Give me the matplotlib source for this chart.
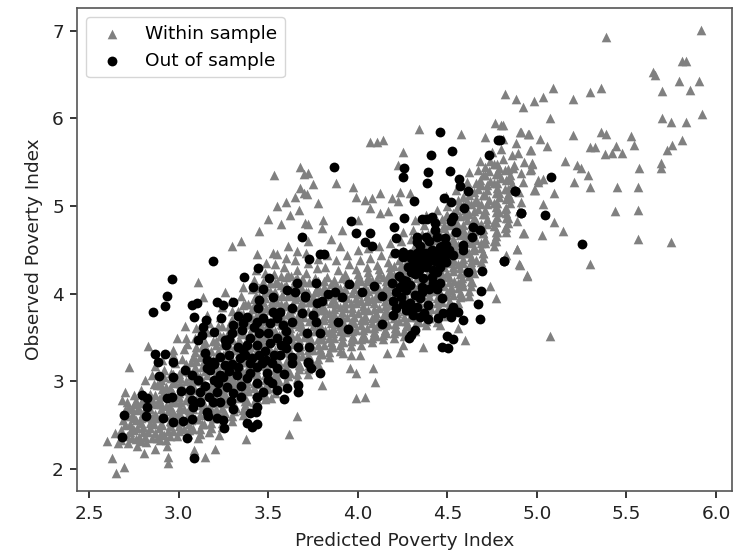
import matplotlib
matplotlib.use("Agg")
import matplotlib.pyplot as plt

x_label = "Predicted Poverty Index"
y_label = "Observed Poverty Index"
x_ticks = [2.5, 3.0, 3.5, 4.0, 4.5, 5.0, 5.5, 6.0]
y_ticks = [2, 3, 4, 5, 6, 7]

# Within sample: sparse points read individually
within_sparse_right = [(5.384,6.924),(5.916,7.01),(5.808,6.658),(5.83,6.658),(5.646,6.53),(5.659,6.49),(5.791,6.43),(5.903,6.43),(5.856,6.32),(5.70,6.31),(5.356,6.35),(5.294,6.30),(5.20,6.22),(5.088,6.35),(5.036,6.24),(4.984,6.20),(4.924,6.125),(4.881,6.22),(4.822,6.28),(5.073,6.007),(4.811,5.92),(5.923,6.05),(5.70,6.007),(5.746,5.96),(5.834,5.96),(5.811,5.75),(5.754,5.70),(5.724,5.64),(5.20,5.81),(5.356,5.85),(5.384,5.82),(5.523,5.80),(5.54,5.70),(5.443,5.69),(5.296,5.676),(5.324,5.676),(5.378,5.596),(5.417,5.61),(5.473,5.61),(5.568,5.44),(5.69,5.49),(5.69,5.44),(5.155,5.52),(5.226,5.467),(5.246,5.44),(5.287,5.36),(5.207,5.276),(5.294,5.216),(5.449,5.216),(5.562,5.216),(5.436,4.945),(5.562,4.96),(5.562,4.63),(5.746,4.59),(5.294,4.337),(5.073,3.52),(5.097,4.816),(5.147,4.713),(5.028,4.67),(4.924,4.69),(4.891,4.508),(4.904,4.33),(4.943,4.21),(5.097,5.147),(5.036,5.025),(4.982,5.185),(5.008,5.276),(5.032,5.307),(4.909,5.85),(4.956,5.82),(5.017,5.76),(5.054,5.69),(4.965,5.64),(4.974,5.48),(4.965,5.42)]
within_sparse_left = [(3.11,4.131),(3.259,4.024),(3.134,3.967),(3.036,3.632),(2.989,3.492),(2.827,3.408),(3.049,3.427),(2.971,3.358),(2.725,3.168),(2.701,2.883),(2.682,2.788),(2.599,2.324),(2.645,2.407),(2.664,2.293),(2.627,2.129),(2.695,2.019),(2.651,1.958),(2.807,2.179),(2.868,2.225),(2.939,2.141),(2.939,2.065),(2.896,2.331),(2.933,2.263),(3.088,2.217),(3.147,2.141),(3.203,2.225),(3.227,2.388),(3.376,2.339),(3.618,2.4),(3.659,2.605),(3.514,2.807),(3.436,4.454),(3.529,4.462)]
within_sparse_mid = [(4.343,5.877),(4.579,5.824),(4.068,5.733),(4.105,5.733),(4.142,5.756),(4.254,5.622),(4.226,5.47),(3.878,5.261),(3.975,5.223),(3.993,5.101),(4.04,5.071),(4.077,5.09),(4.127,5.147),(4.068,4.976),(4.189,5.09),(4.235,5.166),(4.291,5.147),(4.222,5.059),(4.123,4.919),(4.17,4.949),(3.807,4.842),(3.699,5.364),(3.714,5.139),(3.677,5.204),(3.705,4.804),(4.003,4.842),(3.91,4.728),(4.709,5.794),(4.765,5.946),(4.802,5.927),(4.905,5.851),(4.951,5.824),(4.886,5.717),(4.96,5.642),(4.895,5.603),(4.97,5.489),(4.96,5.413),(4.867,5.432),(4.988,5.185),(5.007,5.299),(4.927,4.69),(4.89,4.508),(4.901,4.336),(4.942,4.207),(4.83,4.443),(4.771,3.956),(4.741,4.089),(4.598,3.473),(4.365,3.396),(4.235,3.34),(4.254,3.416),(4.086,3.149),(4.099,2.997),(3.956,3.149),(3.989,3.092),(4.04,2.826),(3.99,2.81),(3.919,3.32),(3.965,3.302),(4.012,3.302),(4.161,3.32),(3.798,2.959),(4.458,3.644),(4.561,3.606),(3.53,5.35),(3.68,5.45),(3.72,5.38),(3.75,5.25),(3.78,5.03),(3.6,5.05),(3.55,5.0),(3.65,5.1),(3.7,5.15),(3.45,4.72),(3.5,4.85),(3.57,4.8),(3.62,4.9),(3.67,4.95),(3.35,4.6),(3.3,4.55),(3.72,4.8),(3.8,4.75),(3.85,4.62),(3.9,4.55)]

# Within sample: the dense band, estimated region by region
within_band_a = [(2.68,2.33),(2.68,2.45),(2.69,2.56),(2.7,2.67),(2.71,2.76),(2.72,2.3),(2.73,2.42),(2.73,2.52),(2.74,2.62),(2.75,2.74),(2.75,2.85),(2.77,2.26),(2.78,2.37),(2.77,2.47),(2.79,2.58),(2.78,2.69),(2.8,2.8),(2.79,2.9),(2.81,3.02),(2.82,2.31),(2.83,2.42),(2.84,2.53),(2.83,2.64),(2.85,2.75),(2.84,2.86),(2.86,2.97),(2.85,3.07),(2.87,3.18),(2.88,2.36),(2.89,2.47),(2.88,2.58),(2.9,2.69),(2.89,2.8),(2.91,2.91),(2.9,3.02),(2.92,3.13),(2.91,3.24),(2.93,2.33),(2.94,2.44),(2.95,2.55),(2.94,2.66),(2.96,2.77),(2.95,2.88),(2.97,2.99),(2.96,3.1),(2.98,3.21),(2.97,3.3),(2.99,2.38),(3.0,2.49),(2.99,2.6),(3.01,2.71),(3.0,2.82),(3.02,2.93),(3.01,3.04),(3.03,3.15),(3.02,3.26),(3.03,3.37),(3.04,3.5),(3.05,2.4),(3.06,2.51),(3.05,2.62),(3.07,2.73),(3.06,2.84),(3.08,2.95),(3.07,3.06),(3.09,3.17),(3.08,3.28),(3.1,3.39),(3.09,3.5),(3.1,3.61),(3.11,2.35),(3.12,2.46),(3.11,2.57),(3.13,2.68),(3.12,2.79),(3.14,2.9),(3.13,3.01),(3.15,3.12),(3.14,3.23),(3.16,3.34),(3.15,3.45),(3.16,3.56),(3.17,3.67),(3.16,3.76)]
within_band_b = [(3.17,2.42),(3.18,2.53),(3.19,2.64),(3.18,2.75),(3.2,2.86),(3.19,2.97),(3.21,3.08),(3.2,3.19),(3.22,3.3),(3.21,3.41),(3.23,3.52),(3.22,3.63),(3.23,3.74),(3.24,3.85),(3.24,2.48),(3.25,2.59),(3.24,2.7),(3.26,2.81),(3.25,2.92),(3.27,3.03),(3.26,3.14),(3.28,3.25),(3.27,3.36),(3.29,3.47),(3.28,3.58),(3.29,3.69),(3.3,3.8),(3.29,3.92),(3.3,2.55),(3.31,2.66),(3.3,2.77),(3.32,2.88),(3.31,2.99),(3.33,3.1),(3.32,3.21),(3.34,3.32),(3.33,3.43),(3.35,3.54),(3.34,3.65),(3.35,3.76),(3.36,3.87),(3.35,3.98),(3.36,4.08),(3.36,2.62),(3.37,2.73),(3.36,2.84),(3.38,2.95),(3.37,3.06),(3.39,3.17),(3.38,3.28),(3.4,3.39),(3.39,3.5),(3.41,3.61),(3.4,3.72),(3.41,3.83),(3.42,3.94),(3.41,4.05),(3.42,4.16),(3.43,4.27),(3.42,2.7),(3.43,2.81),(3.42,2.92),(3.44,3.03),(3.43,3.14),(3.45,3.25),(3.44,3.36),(3.46,3.47),(3.45,3.58),(3.47,3.69),(3.46,3.8),(3.47,3.91),(3.48,4.02),(3.47,4.13),(3.48,4.24),(3.49,4.35),(3.48,2.8),(3.49,2.91),(3.48,3.02),(3.5,3.13),(3.49,3.24),(3.51,3.35),(3.5,3.46),(3.52,3.57),(3.51,3.68),(3.53,3.79),(3.52,3.9),(3.53,4.01),(3.54,4.12),(3.53,4.23),(3.54,4.34),(3.55,4.45),(3.54,2.87),(3.55,2.98),(3.54,3.09),(3.56,3.2),(3.55,3.31),(3.57,3.42),(3.56,3.53),(3.58,3.64),(3.57,3.75),(3.59,3.86),(3.58,3.97),(3.59,4.08),(3.6,4.19),(3.59,4.3),(3.6,4.41),(3.61,4.55),(3.6,2.95),(3.61,3.06),(3.6,3.17),(3.62,3.28),(3.61,3.39),(3.63,3.5),(3.62,3.61),(3.64,3.72),(3.63,3.83),(3.65,3.94),(3.64,4.05),(3.65,4.16),(3.66,4.27),(3.65,4.38),(3.66,4.49),(3.66,3.03),(3.67,3.14),(3.66,3.25),(3.68,3.36),(3.67,3.47),(3.69,3.58),(3.68,3.69),(3.7,3.8),(3.69,3.91),(3.71,4.02),(3.7,4.13),(3.71,4.24),(3.72,4.35),(3.71,4.46),(3.72,4.6)]
within_band_c = [(3.72,3.08),(3.73,3.19),(3.72,3.3),(3.74,3.41),(3.73,3.52),(3.75,3.63),(3.74,3.74),(3.76,3.85),(3.75,3.96),(3.77,4.07),(3.76,4.18),(3.77,4.29),(3.78,4.4),(3.78,3.2),(3.79,3.31),(3.78,3.42),(3.8,3.53),(3.79,3.64),(3.81,3.75),(3.8,3.86),(3.82,3.97),(3.81,4.08),(3.83,4.19),(3.82,4.3),(3.83,4.44),(3.84,3.28),(3.85,3.39),(3.84,3.5),(3.86,3.61),(3.85,3.72),(3.87,3.83),(3.86,3.94),(3.88,4.05),(3.87,4.16),(3.89,4.27),(3.88,4.38),(3.9,3.35),(3.91,3.46),(3.9,3.57),(3.92,3.68),(3.91,3.79),(3.93,3.9),(3.92,4.01),(3.94,4.12),(3.93,4.23),(3.95,4.34),(3.94,4.44),(3.96,3.4),(3.97,3.51),(3.96,3.62),(3.98,3.73),(3.97,3.84),(3.99,3.95),(3.98,4.06),(4.0,4.17),(3.99,4.28),(4.01,4.39),(4.0,4.5),(4.02,3.42),(4.03,3.53),(4.02,3.64),(4.04,3.75),(4.03,3.86),(4.05,3.97),(4.04,4.08),(4.06,4.19),(4.05,4.3),(4.07,4.41),(4.06,4.52),(4.08,3.45),(4.09,3.56),(4.08,3.67),(4.1,3.78),(4.09,3.89),(4.11,4.0),(4.1,4.11),(4.12,4.22),(4.11,4.33),(4.13,4.44),(4.12,4.55),(4.14,3.48),(4.15,3.59),(4.14,3.7),(4.16,3.81),(4.15,3.92),(4.17,4.03),(4.16,4.14),(4.18,4.25),(4.17,4.36),(4.19,4.47),(4.18,4.58),(4.2,3.5),(4.21,3.61),(4.2,3.72),(4.22,3.83),(4.21,3.94),(4.23,4.05),(4.22,4.16),(4.24,4.27),(4.23,4.38),(4.25,4.49),(4.24,4.6),(4.25,4.71),(4.26,3.52),(4.27,3.63),(4.26,3.74),(4.28,3.85),(4.27,3.96),(4.29,4.07),(4.28,4.18),(4.3,4.29),(4.29,4.4),(4.31,4.51),(4.3,4.62),(4.31,4.73),(4.32,4.84)]
within_band_d = [(4.32,3.58),(4.33,3.69),(4.32,3.8),(4.34,3.91),(4.33,4.02),(4.35,4.13),(4.34,4.24),(4.36,4.35),(4.35,4.46),(4.37,4.57),(4.36,4.68),(4.37,4.79),(4.38,4.9),(4.38,3.64),(4.39,3.75),(4.38,3.86),(4.4,3.97),(4.39,4.08),(4.41,4.19),(4.4,4.3),(4.42,4.41),(4.41,4.52),(4.43,4.63),(4.42,4.74),(4.43,4.85),(4.44,4.96),(4.44,3.68),(4.45,3.79),(4.44,3.9),(4.46,4.01),(4.45,4.12),(4.47,4.23),(4.46,4.34),(4.48,4.45),(4.47,4.56),(4.49,4.67),(4.48,4.78),(4.49,4.89),(4.5,5.0),(4.49,5.11),(4.5,3.75),(4.51,3.86),(4.5,3.97),(4.52,4.08),(4.51,4.19),(4.53,4.3),(4.52,4.41),(4.54,4.52),(4.53,4.63),(4.55,4.74),(4.54,4.85),(4.55,4.96),(4.56,5.07),(4.55,5.18),(4.56,3.85),(4.57,3.96),(4.56,4.07),(4.58,4.18),(4.57,4.29),(4.59,4.4),(4.58,4.51),(4.6,4.62),(4.59,4.73),(4.61,4.84),(4.6,4.95),(4.61,5.06),(4.62,5.17),(4.61,5.28),(4.62,5.39),(4.62,3.98),(4.63,4.09),(4.62,4.2),(4.64,4.31),(4.63,4.42),(4.65,4.53),(4.64,4.64),(4.66,4.75),(4.65,4.86),(4.67,4.97),(4.66,5.08),(4.67,5.19),(4.68,5.3),(4.67,5.41),(4.68,5.52),(4.69,4.3),(4.7,4.41),(4.69,4.52),(4.71,4.63),(4.7,4.74),(4.72,4.85),(4.71,4.96),(4.73,5.07),(4.72,5.18),(4.74,5.29),(4.73,5.4),(4.74,5.51),(4.75,5.62),(4.76,4.55),(4.77,4.66),(4.76,4.77),(4.78,4.88),(4.77,4.99),(4.79,5.1),(4.78,5.21),(4.8,5.32),(4.79,5.43),(4.81,5.54),(4.8,5.65),(4.81,5.76),(4.83,4.7),(4.84,4.81),(4.83,4.92),(4.85,5.03),(4.84,5.14),(4.86,5.25),(4.85,5.36),(4.87,5.47),(4.86,5.58),(4.89,4.83),(4.9,4.94),(4.91,5.05),(4.9,5.16),(4.92,5.27),(4.91,5.38),(4.93,5.5)]
# Within sample: the solid core of the band
within_core_a = [(2.71,2.38),(2.7,2.5),(2.71,2.6),(2.72,2.71),(2.76,2.34),(2.75,2.45),(2.76,2.56),(2.77,2.67),(2.76,2.78),(2.81,2.37),(2.8,2.48),(2.81,2.59),(2.82,2.7),(2.81,2.81),(2.87,2.41),(2.86,2.52),(2.87,2.63),(2.88,2.74),(2.87,2.85),(2.88,2.96),(2.92,2.39),(2.91,2.5),(2.92,2.61),(2.93,2.72),(2.92,2.83),(2.93,2.94),(2.92,3.05),(2.97,2.43),(2.96,2.54),(2.97,2.65),(2.98,2.76),(2.97,2.87),(2.98,2.98),(2.97,3.09),(3.03,2.46),(3.02,2.57),(3.03,2.68),(3.04,2.79),(3.03,2.9),(3.04,3.01),(3.03,3.12),(3.04,3.2),(3.08,2.46),(3.09,2.57),(3.08,2.68),(3.1,2.79),(3.09,2.9),(3.1,3.01),(3.09,3.12),(3.1,3.23),(3.09,3.34),(3.14,2.52),(3.15,2.63),(3.14,2.74),(3.16,2.85),(3.15,2.96),(3.16,3.07),(3.15,3.18),(3.16,3.29),(3.15,3.4),(3.2,2.58),(3.21,2.69),(3.2,2.8),(3.22,2.91),(3.21,3.02),(3.22,3.13),(3.21,3.24),(3.22,3.35),(3.21,3.46),(3.26,2.64),(3.27,2.75),(3.26,2.86),(3.28,2.97),(3.27,3.08),(3.28,3.19),(3.27,3.3),(3.28,3.41),(3.27,3.52),(3.28,3.63),(3.32,2.7),(3.33,2.81),(3.32,2.92),(3.34,3.03),(3.33,3.14),(3.34,3.25),(3.33,3.36),(3.34,3.47),(3.33,3.58),(3.34,3.69),(3.33,3.8),(3.38,2.78),(3.39,2.89),(3.38,3.0),(3.4,3.11),(3.39,3.22),(3.4,3.33),(3.39,3.44),(3.4,3.55),(3.39,3.66),(3.4,3.77),(3.39,3.88),(3.44,2.86),(3.45,2.97),(3.44,3.08),(3.46,3.19),(3.45,3.3),(3.46,3.41),(3.45,3.52),(3.46,3.63),(3.45,3.74),(3.46,3.85),(3.45,3.96),(3.45,4.07),(3.5,2.93),(3.51,3.04),(3.5,3.15),(3.52,3.26),(3.51,3.37),(3.52,3.48),(3.51,3.59),(3.52,3.7),(3.51,3.81),(3.52,3.92),(3.51,4.03),(3.51,4.12)]
within_core_b = [(3.56,3.0),(3.57,3.11),(3.56,3.22),(3.58,3.33),(3.57,3.44),(3.58,3.55),(3.57,3.66),(3.58,3.77),(3.57,3.88),(3.58,3.99),(3.57,4.1),(3.57,4.2),(3.62,3.1),(3.63,3.21),(3.62,3.32),(3.64,3.43),(3.63,3.54),(3.64,3.65),(3.63,3.76),(3.64,3.87),(3.63,3.98),(3.64,4.09),(3.63,4.2),(3.68,3.18),(3.69,3.29),(3.68,3.4),(3.7,3.51),(3.69,3.62),(3.7,3.73),(3.69,3.84),(3.7,3.95),(3.69,4.06),(3.69,4.17),(3.74,3.25),(3.75,3.36),(3.74,3.47),(3.76,3.58),(3.75,3.69),(3.76,3.8),(3.75,3.91),(3.76,4.02),(3.75,4.13),(3.8,3.31),(3.81,3.42),(3.8,3.48),(3.82,3.59),(3.81,3.7),(3.82,3.81),(3.81,3.92),(3.82,4.03),(3.81,4.14),(3.86,3.39),(3.87,3.5),(3.86,3.55),(3.88,3.66),(3.87,3.77),(3.88,3.88),(3.87,3.99),(3.88,4.1),(3.92,3.45),(3.93,3.56),(3.92,3.62),(3.94,3.73),(3.93,3.84),(3.94,3.95),(3.93,4.06),(3.94,4.17),(3.98,3.48),(3.99,3.59),(3.98,3.67),(4.0,3.78),(3.99,3.89),(4.0,4.0),(3.99,4.11),(4.0,4.22),(4.04,3.5),(4.05,3.61),(4.04,3.7),(4.06,3.81),(4.05,3.92),(4.06,4.03),(4.05,4.14),(4.06,4.25),(4.1,3.52),(4.11,3.63),(4.1,3.73),(4.12,3.84),(4.11,3.95),(4.12,4.06),(4.11,4.17),(4.12,4.28),(4.16,3.55),(4.17,3.66),(4.16,3.76),(4.18,3.87),(4.17,3.98),(4.18,4.09),(4.17,4.2),(4.18,4.31),(4.22,3.58),(4.23,3.69),(4.22,3.78),(4.24,3.89),(4.23,4.0),(4.24,4.11),(4.23,4.22),(4.24,4.33),(4.28,3.63),(4.29,3.74),(4.28,3.82),(4.3,3.93),(4.29,4.04),(4.3,4.15),(4.29,4.26),(4.3,4.37),(4.29,4.46),(4.34,3.68),(4.35,3.79),(4.34,3.87),(4.36,3.98),(4.35,4.09),(4.36,4.2),(4.35,4.31),(4.36,4.42),(4.35,4.55)]
within_core_c = [(4.4,3.72),(4.41,3.83),(4.4,3.92),(4.42,4.03),(4.41,4.14),(4.42,4.25),(4.41,4.36),(4.42,4.47),(4.41,4.58),(4.42,4.69),(4.46,3.8),(4.47,3.91),(4.46,3.98),(4.48,4.09),(4.47,4.2),(4.48,4.31),(4.47,4.42),(4.48,4.53),(4.47,4.64),(4.48,4.75),(4.47,4.85),(4.52,3.88),(4.53,3.99),(4.52,4.04),(4.54,4.15),(4.53,4.26),(4.54,4.37),(4.53,4.48),(4.54,4.59),(4.53,4.7),(4.54,4.81),(4.53,4.92),(4.58,3.98),(4.59,4.09),(4.58,4.13),(4.6,4.24),(4.59,4.35),(4.6,4.46),(4.59,4.57),(4.6,4.68),(4.59,4.79),(4.6,4.9),(4.59,5.01),(4.59,5.1),(4.64,4.13),(4.65,4.24),(4.64,4.28),(4.66,4.39),(4.65,4.5),(4.66,4.61),(4.65,4.72),(4.66,4.83),(4.65,4.94),(4.66,5.05),(4.65,5.16),(4.66,5.26),(4.7,4.47),(4.71,4.58),(4.7,4.69),(4.72,4.8),(4.71,4.91),(4.72,5.02),(4.71,5.13),(4.72,5.24),(4.71,5.35),(4.71,5.45),(4.77,4.6),(4.78,4.71),(4.77,4.82),(4.79,4.93),(4.78,5.04),(4.79,5.15),(4.78,5.26),(4.79,5.37),(4.78,5.48),(4.83,4.76),(4.84,4.87),(4.83,4.98),(4.85,5.09),(4.84,5.2),(4.85,5.31),(4.84,5.42)]
within_fill_a = [(2.74,2.36),(2.74,2.47),(2.75,2.58),(2.74,2.68),(2.79,2.32),(2.8,2.42),(2.79,2.53),(2.8,2.64),(2.79,2.75),(2.85,2.36),(2.84,2.47),(2.85,2.58),(2.84,2.69),(2.85,2.8),(2.9,2.41),(2.9,2.52),(2.91,2.63),(2.9,2.74),(2.91,2.85),(2.9,2.96),(2.95,2.38),(2.95,2.49),(2.96,2.6),(2.95,2.71),(2.96,2.82),(2.95,2.93),(2.96,3.04),(3.0,2.43),(3.01,2.54),(3.0,2.65),(3.01,2.76),(3.0,2.87),(3.01,2.98),(3.0,3.09),(3.06,2.45),(3.07,2.56),(3.06,2.67),(3.07,2.78),(3.06,2.89),(3.07,3.0),(3.06,3.11),(3.07,3.22),(3.12,2.4),(3.13,2.51),(3.12,2.62),(3.13,2.73),(3.12,2.84),(3.13,2.95),(3.12,3.06),(3.13,3.17),(3.12,3.28),(3.13,3.39),(3.18,2.47),(3.19,2.58),(3.18,2.69),(3.19,2.8),(3.18,2.91),(3.19,3.02),(3.18,3.13),(3.19,3.24),(3.18,3.35),(3.19,3.46),(3.24,2.53),(3.25,2.64),(3.24,2.75),(3.25,2.86),(3.24,2.97),(3.25,3.08),(3.24,3.19),(3.25,3.3),(3.24,3.41),(3.25,3.52),(3.24,3.63),(3.3,2.6),(3.31,2.71),(3.3,2.82),(3.31,2.93),(3.3,3.04),(3.31,3.15),(3.3,3.26),(3.31,3.37),(3.3,3.48),(3.31,3.59),(3.3,3.7),(3.36,2.67),(3.37,2.78),(3.36,2.89),(3.37,3.0),(3.36,3.11),(3.37,3.22),(3.36,3.33),(3.37,3.44),(3.36,3.55),(3.37,3.66),(3.36,3.77),(3.37,3.88),(3.42,2.76),(3.43,2.87),(3.42,2.98),(3.43,3.09),(3.42,3.2),(3.43,3.31),(3.42,3.42),(3.43,3.53),(3.42,3.64),(3.43,3.75),(3.42,3.86),(3.43,3.97),(3.48,2.85),(3.49,2.96),(3.48,3.07),(3.49,3.18),(3.48,3.29),(3.49,3.4),(3.48,3.51),(3.49,3.62),(3.48,3.73),(3.49,3.84),(3.48,3.95),(3.49,4.06)]
within_fill_b = [(3.54,2.92),(3.55,3.03),(3.54,3.14),(3.55,3.25),(3.54,3.36),(3.55,3.47),(3.54,3.58),(3.55,3.69),(3.54,3.8),(3.55,3.91),(3.54,4.02),(3.55,4.13),(3.6,3.0),(3.61,3.11),(3.6,3.22),(3.61,3.33),(3.6,3.44),(3.61,3.55),(3.6,3.66),(3.61,3.77),(3.6,3.88),(3.61,3.99),(3.6,4.1),(3.61,4.21),(3.66,3.08),(3.67,3.19),(3.66,3.3),(3.67,3.41),(3.66,3.52),(3.67,3.63),(3.66,3.74),(3.67,3.85),(3.66,3.96),(3.67,4.07),(3.66,4.18),(3.72,3.14),(3.73,3.25),(3.72,3.36),(3.73,3.47),(3.72,3.58),(3.73,3.69),(3.72,3.8),(3.73,3.91),(3.72,4.02),(3.73,4.13),(3.78,3.26),(3.79,3.37),(3.78,3.48),(3.79,3.59),(3.78,3.7),(3.79,3.81),(3.78,3.92),(3.79,4.03),(3.78,4.14),(3.84,3.34),(3.85,3.45),(3.84,3.56),(3.85,3.67),(3.84,3.78),(3.85,3.89),(3.84,4.0),(3.85,4.11),(3.9,3.41),(3.91,3.52),(3.9,3.63),(3.91,3.74),(3.9,3.85),(3.91,3.96),(3.9,4.07),(3.91,4.18),(3.96,3.46),(3.97,3.57),(3.96,3.68),(3.97,3.79),(3.96,3.9),(3.97,4.01),(3.96,4.12),(4.02,3.48),(4.03,3.59),(4.02,3.7),(4.03,3.81),(4.02,3.92),(4.03,4.03),(4.02,4.14),(4.08,3.5),(4.09,3.61),(4.08,3.72),(4.09,3.83),(4.08,3.94),(4.09,4.05),(4.08,4.16),(4.14,3.53),(4.15,3.64),(4.14,3.75),(4.15,3.86),(4.14,3.97),(4.15,4.08),(4.14,4.19),(4.2,3.55),(4.21,3.66),(4.2,3.77),(4.21,3.88),(4.2,3.99),(4.21,4.1),(4.2,4.21),(4.2,4.32),(4.26,3.58),(4.27,3.69),(4.26,3.8),(4.27,3.91),(4.26,4.02),(4.27,4.13),(4.26,4.24),(4.27,4.35),(4.32,3.63),(4.33,3.74),(4.32,3.85),(4.33,3.96),(4.32,4.07),(4.33,4.18),(4.32,4.29),(4.33,4.4),(4.32,4.51),(4.38,3.69),(4.39,3.8),(4.38,3.91),(4.39,4.02),(4.38,4.13),(4.39,4.24),(4.38,4.35),(4.39,4.46),(4.38,4.57),(4.39,4.68)]
within_fill_c = [(4.44,3.73),(4.45,3.84),(4.44,3.95),(4.45,4.06),(4.44,4.17),(4.45,4.28),(4.44,4.39),(4.45,4.5),(4.44,4.61),(4.45,4.72),(4.44,4.83),(4.5,3.8),(4.51,3.91),(4.5,4.02),(4.51,4.13),(4.5,4.24),(4.51,4.35),(4.5,4.46),(4.51,4.57),(4.5,4.68),(4.51,4.79),(4.5,4.9),(4.56,3.9),(4.57,4.01),(4.56,4.12),(4.57,4.23),(4.56,4.34),(4.57,4.45),(4.56,4.56),(4.57,4.67),(4.56,4.78),(4.57,4.89),(4.56,5.0),(4.62,4.03),(4.63,4.14),(4.62,4.25),(4.63,4.36),(4.62,4.47),(4.63,4.58),(4.62,4.69),(4.63,4.8),(4.62,4.91),(4.63,5.02),(4.62,5.13),(4.69,4.36),(4.7,4.47),(4.69,4.58),(4.7,4.69),(4.69,4.8),(4.7,4.91),(4.69,5.02),(4.7,5.13),(4.69,5.24),(4.7,5.35),(4.76,4.6),(4.77,4.71),(4.76,4.82),(4.77,4.93),(4.76,5.04),(4.77,5.15),(4.76,5.26),(4.77,5.37),(4.76,5.48),(4.82,4.75),(4.83,4.86),(4.82,4.97),(4.83,5.08),(4.82,5.19),(4.83,5.3),(4.82,5.41)]

# Out of sample, read individually
out_left = [(3.19,4.378),(2.961,4.169),(2.933,3.975),(2.924,3.865),(2.859,3.796),(3.441,4.29),(3.363,4.196),(3.506,4.184),(3.417,4.081),(3.473,4.051),(3.659,4.12),(3.603,4.043),(3.65,4.024),(3.705,3.967),(3.529,3.967),(3.305,3.91),(3.101,3.891),(3.073,3.872),(3.212,3.91),(3.25,3.872),(3.088,3.739),(3.153,3.701),(3.138,3.625),(3.235,3.72),(3.198,3.568),(3.445,3.834),(3.529,3.796),(3.566,3.796),(3.631,3.834),(3.687,3.777),(3.305,3.644),(3.361,3.663),(3.352,3.587),(3.436,3.682),(3.51,3.663),(3.585,3.644),(3.631,3.682),(3.11,3.473),(3.129,3.53),(3.259,3.473),(3.265,3.416),(3.333,3.397),(3.361,3.358),(3.436,3.416),(3.51,3.435),(3.603,3.473),(3.664,3.389),(3.566,3.301),(3.631,3.282),(3.631,3.206),(3.724,3.206),(3.343,3.263),(3.398,3.206),(3.464,3.206),(3.519,3.206),(2.868,3.309),(2.924,3.313),(2.887,3.225),(2.971,3.218),(3.147,3.32),(3.157,3.244),(3.194,3.225),(3.259,3.187),(2.892,3.065),(2.971,3.054),(3.036,3.13),(3.073,3.073),(3.11,3.016),(3.175,3.13),(3.231,3.073),(3.324,3.073),(3.38,3.035),(3.436,2.978),(3.492,3.092),(3.519,2.978),(3.588,3.084),(3.603,2.921),(3.588,2.795),(3.668,2.959),(3.668,2.883),(2.794,2.845),(2.822,2.807),(2.822,2.711),(2.818,2.609),(2.697,2.616),(2.933,2.807),(2.961,2.826),(3.012,2.894),(3.064,2.902),(3.119,2.883),(3.082,2.712),(3.073,2.788),(3.212,2.883),(3.194,2.769),(3.231,2.769),(3.268,2.94),(3.305,2.864),(3.305,2.681),(3.157,2.655),(3.166,2.609),(3.212,2.578),(3.25,2.559),(3.255,2.464),(2.915,2.578),(2.971,2.54),(3.026,2.552),(3.073,2.571),(2.686,2.369),(3.049,2.358),(3.086,2.129),(3.38,2.521),(3.408,2.483),(3.436,2.514),(3.398,2.643),(3.436,2.712),(3.436,2.826),(3.547,2.902),(3.4,3.1),(3.45,3.3),(3.3,3.2),(3.25,3.05),(3.5,3.55),(3.55,3.5),(3.45,3.55),(3.4,3.5),(3.3,3.55),(3.6,3.38),(3.55,3.15),(3.48,3.35),(3.38,3.42),(3.28,3.3),(3.2,3.02),(3.15,2.95),(3.35,2.95),(3.47,2.88)]
out_left_dense = [(3.16,3.15),(3.2,3.2),(3.23,3.28),(3.28,3.12),(3.33,3.16),(3.37,3.3),(3.41,3.27),(3.44,3.16),(3.49,3.24),(3.53,3.3),(3.57,3.42),(3.42,3.62),(3.47,3.72),(3.55,3.72),(3.6,3.58),(3.38,3.74),(3.33,3.75),(3.45,3.93),(3.28,3.48),(3.22,2.98),(3.29,2.78),(3.35,2.82),(3.12,2.76),(3.17,2.82),(3.43,2.65),(3.5,3.02)]
out_mid = [(4.46,5.843),(4.784,5.752),(4.525,5.63),(4.408,5.588),(4.732,5.588),(3.87,5.451),(4.259,5.436),(4.252,5.337),(4.393,5.39),(4.514,5.402),(4.384,5.265),(4.564,5.314),(4.572,5.227),(4.616,5.177),(4.313,5.059),(4.48,5.094),(4.523,5.052),(4.592,4.979),(4.879,5.177),(4.91,4.922),(4.259,4.865),(3.963,4.835),(4.531,4.88),(4.52,4.835),(4.356,4.858),(4.384,4.858),(4.417,4.877),(4.43,4.804),(4.43,4.728),(4.2,4.759),(3.993,4.694),(4.068,4.698),(4.216,4.637),(4.328,4.652),(4.38,4.652),(4.332,4.595),(4.644,4.759),(4.683,4.728),(4.637,4.652),(4.548,4.71),(4.038,4.587),(4.081,4.546),(3.69,4.652),(4.585,4.557),(4.585,4.496),(4.486,4.633),(4.495,4.557),(4.458,4.538),(4.412,4.5),(4.375,4.462),(4.328,4.424),(4.207,4.47),(4.254,4.481),(4.254,4.424),(4.3,4.405),(4.282,4.31),(4.319,4.31),(4.356,4.424),(4.393,4.462),(4.44,4.462),(4.477,4.462),(4.533,4.443),(4.495,4.367),(4.421,4.272),(4.458,4.31),(4.365,4.184),(4.319,4.226),(3.813,4.454),(3.79,4.454),(3.729,4.393),(4.815,4.378),(4.616,4.245),(4.694,4.256),(4.421,4.12),(4.458,4.12),(4.412,4.196),(4.194,4.12),(4.254,4.158),(4.235,4.081),(4.272,4.043),(4.216,4.024),(3.952,4.108),(4.09,4.093),(3.766,4.12),(4.023,4.02),(4.135,3.975),(3.707,3.975),(3.835,4.0),(3.872,4.017),(3.91,3.967),(3.798,3.918),(3.774,3.891),(4.687,4.032),(4.473,3.956),(4.672,3.88),(4.681,3.712),(4.356,4.024),(4.319,3.986),(4.347,3.948),(4.393,3.872),(4.198,3.918),(4.216,3.834),(4.198,3.758),(4.272,3.815),(4.309,3.758),(4.347,3.739),(4.393,3.712),(4.477,3.777),(4.533,3.853),(4.523,3.739),(4.561,3.796),(4.588,3.701),(4.135,3.655),(3.891,3.674),(3.943,3.594),(4.319,3.587),(4.3,3.53),(4.287,3.492),(4.499,3.522),(4.533,3.484),(4.468,3.396),(4.505,3.377),(3.751,3.758),(3.766,3.674),(3.789,3.549),(3.718,3.549),(3.729,3.397),(3.724,3.225),(3.738,3.157),(3.789,3.1),(5.08,5.33),(4.878,5.174),(4.911,4.926),(5.045,4.896),(5.252,4.573),(4.816,4.378),(4.794,5.75)]
out_mid_dense = [(4.29,4.45),(4.33,4.47),(4.37,4.4),(4.41,4.42),(4.46,4.4),(4.5,4.45),(4.31,4.37),(4.35,4.34),(4.39,4.36),(4.43,4.37),(4.47,4.55),(4.51,4.5),(4.3,4.25),(4.34,4.27),(4.38,4.3),(4.44,4.25),(4.4,4.6),(4.44,4.65),(4.35,4.55),(4.27,4.15),(4.23,4.2),(4.29,4.1),(4.24,3.96),(4.29,3.9),(4.25,3.88),(4.33,3.85),(4.3,3.8),(4.37,3.78),(4.4,4.05),(4.44,4.05),(4.36,4.08),(4.45,3.72),(4.52,3.8)]

within = (within_sparse_right + within_sparse_left + within_sparse_mid + within_band_a + within_band_b
          + within_band_c + within_band_d + within_core_a + within_core_b + within_core_c
          + within_fill_a + within_fill_b + within_fill_c)
out = out_left + out_left_dense + out_mid + out_mid_dense

plt.rcParams.update({"font.family": "DejaVu Sans", "font.size": 13.3, "axes.linewidth": 1.2})
fig, ax = plt.subplots(figsize=(7.46, 5.52), dpi=100)
fig.subplots_adjust(left=77/746, right=732/746, top=1-8/552, bottom=1-491/552)

ax.scatter([p[0] for p in within], [p[1] for p in within], marker="^", s=48, color="#808080",
           linewidths=0, label="Within sample")
ax.scatter([p[0] for p in out], [p[1] for p in out], marker="o", s=50, color="black",
           linewidths=0, label="Out of sample")

ax.set_xlim(2.433, 6.089)
ax.set_ylim(1.75, 7.26)
ax.set_xticks(x_ticks)
ax.set_yticks(y_ticks)
ax.tick_params(length=4.9, width=1.1, labelsize=13.3, labelcolor="#222222", pad=4.5)
ax.tick_params(axis="x", pad=5.5)
ax.set_xlabel(x_label, color="#222222", labelpad=6)
ax.set_ylabel(y_label, color="#222222", labelpad=6.5)
for s in ax.spines.values():
    s.set_color("#555555")
ax.legend(loc="upper left")
fig.savefig("out.png", dpi=100)
